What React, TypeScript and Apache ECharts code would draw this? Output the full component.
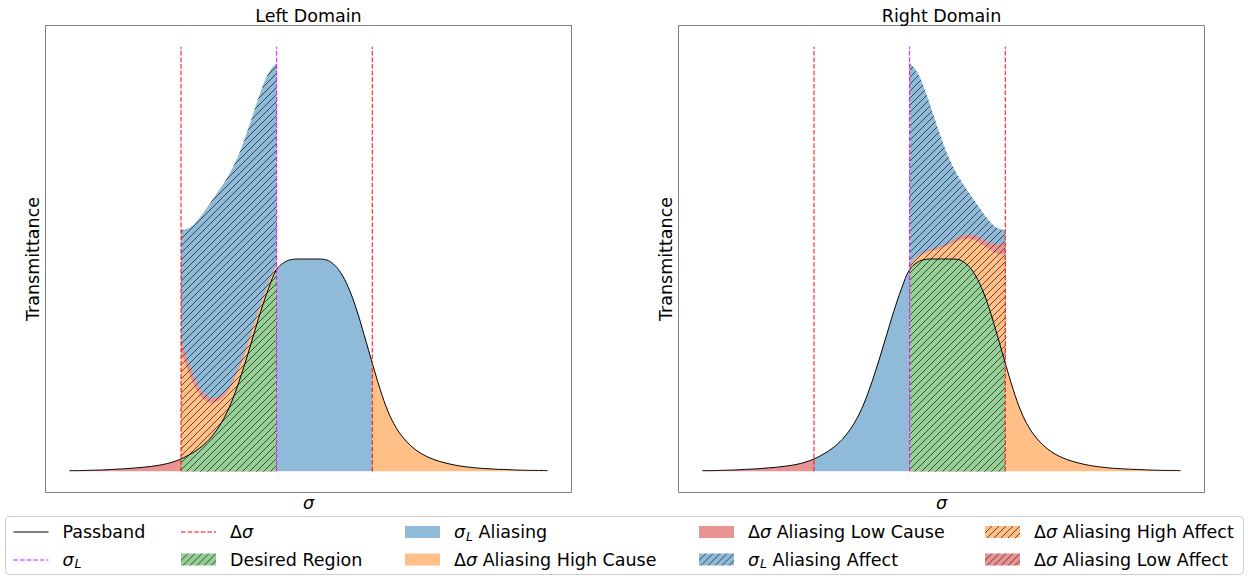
import React, { useEffect, useRef } from "react";
import * as echarts from "echarts";

// ---- data ----
const SIGMA = [
  0, 1, 2, 3, 4, 5, 6, 7, 8, 9, 10, 11, 12, 13, 14, 15, 16, 17, 18, 19, 20,
  21, 22, 23, 24, 25, 26, 27, 28, 29, 30, 31, 32, 33, 34, 35, 36, 37, 38, 39, 40,
  41, 42, 43, 44, 45, 46, 47, 48, 49, 50, 51, 52, 53, 54, 55, 56, 57, 58, 59, 60,
];
const PASSBAND = [
  0.003, 0.003, 0.004, 0.005, 0.006, 0.008, 0.01, 0.012, 0.015, 0.018, 0.022,
  0.027, 0.034, 0.044, 0.058, 0.077, 0.1, 0.13, 0.17, 0.224, 0.296,
  0.392, 0.505, 0.628, 0.752, 0.862, 0.95, 0.985, 0.998, 1.0, 1.0,
  1.0, 0.998, 0.98, 0.938, 0.866, 0.765, 0.64, 0.51, 0.385, 0.28,
  0.205, 0.153, 0.115, 0.087, 0.067, 0.052, 0.041, 0.032, 0.025, 0.02,
  0.016, 0.013, 0.011, 0.009, 0.008, 0.006, 0.005, 0.004, 0.004, 0.003,
];
const SIGMA_L = 26;
const DELTA_SIGMA = 12;
const MARKER_TOP = 2.0;
const X_LIMITS = [-3, 63];
const Y_LIMITS = [-0.1, 2.1];
const PANEL_TITLES = ["Left Domain", "Right Domain"];
const X_LABEL = "σ";
const Y_LABEL = "Transmittance";
const LEGEND_COLUMNS = [
  ["Passband", "σL"],
  ["Δσ", "Desired Region"],
  ["σL Aliasing", "Δσ Aliasing High Cause"],
  ["Δσ Aliasing Low Cause", "σL Aliasing Affect"],
  ["Δσ Aliasing High Affect", "Δσ Aliasing Low Affect"],
];
const LEGEND_RICH_LABELS: Record<string, string> = {
  Passband: "Passband",
  "σL": "{i|σ}{s|L}",
  "Δσ": "Δ{i|σ}",
  "Desired Region": "Desired Region",
  "σL Aliasing": "{i|σ}{s|L} Aliasing",
  "Δσ Aliasing High Cause": "Δ{i|σ} Aliasing High Cause",
  "Δσ Aliasing Low Cause": "Δ{i|σ} Aliasing Low Cause",
  "σL Aliasing Affect": "{i|σ}{s|L} Aliasing Affect",
  "Δσ Aliasing High Affect": "Δ{i|σ} Aliasing High Affect",
  "Δσ Aliasing Low Affect": "Δ{i|σ} Aliasing Low Affect",
};

// ---- styling ----
const FONT = "'DejaVu Sans', 'Noto Sans', sans-serif";
const FS = 17.5;
const COLORS = {
  blue: "#8fbbd9",
  orange: "#ffbf86",
  green: "#95cf95",
  red: "#ea9393",
};
const DASH = [4.6, 2];
const SMOOTH = 0.4;
const GRIDS = [
  { left: 45.5, top: 25.5, width: 526, height: 467 },
  { left: 678.5, top: 25.5, width: 526, height: 467 },
];
const LEGEND_X = [13.5, 181, 405, 699, 985];
const LEGEND_TOP = 521;
const LEGEND_ROW_H = 22;
const LEGEND_GAP = 5.5;
const HANDLE_W = 35;

function hatch(bg: string) {
  const s = 7;
  const c = document.createElement("canvas");
  c.width = s;
  c.height = s;
  const g = c.getContext("2d")!;
  g.fillStyle = bg;
  g.fillRect(0, 0, s, s);
  g.strokeStyle = "rgba(0,0,0,0.62)";
  g.lineWidth = 1;
  for (const k of [-1, 0, 1]) {
    g.beginPath();
    g.moveTo(k * s, s);
    g.lineTo(k * s + s, 0);
    g.stroke();
  }
  return { image: c.toDataURL(), repeat: "repeat", imageWidth: s, imageHeight: s };
}

const idx = (s: number) => SIGMA.indexOf(s);
const T = (s: number) => PASSBAND[idx(s)];
const span = (a: number, b: number) => SIGMA.filter((s) => s >= a && s <= b);

function buildOption() {
  const H = {
    blue: hatch(COLORS.blue),
    orange: hatch(COLORS.orange),
    green: hatch(COLORS.green),
    red: hatch(COLORS.red),
  };
  const lo = SIGMA_L - DELTA_SIGMA;
  const hi = SIGMA_L + DELTA_SIGMA;
  const sMin = SIGMA[0];
  const sMax = SIGMA[SIGMA.length - 1];

  const area = (name: string, g: number, xs: number[], ys: number[], fill: any, z: number) => ({
    type: "line",
    name,
    xAxisIndex: g,
    yAxisIndex: g,
    data: xs.map((s, k) => [s, ys[k]]),
    symbol: "none",
    smooth: SMOOTH,
    lineStyle: { width: 0, opacity: 0 },
    areaStyle: { color: fill, opacity: 1 },
    z,
    silent: true,
  });
  const vline = (name: string, g: number, s: number, color: string) => ({
    type: "line",
    name,
    xAxisIndex: g,
    yAxisIndex: g,
    data: [
      [s, 0],
      [s, MARKER_TOP],
    ],
    symbol: "none",
    lineStyle: { color, width: 1, type: DASH },
    z: 6,
    silent: true,
  });

  const panels = [
    {
      domain: [lo, SIGMA_L],
      blueSolid: [SIGMA_L, hi],
      orangeAff: (s: number) => T(s + 2 * DELTA_SIGMA),
      pinkAff: (s: number) => T(2 * lo - s),
    },
    {
      domain: [SIGMA_L, hi],
      blueSolid: [lo, SIGMA_L],
      orangeAff: (s: number) => T(2 * hi - s),
      pinkAff: (s: number) => T(s - 2 * DELTA_SIGMA),
    },
  ];

  const series: any[] = [];
  panels.forEach((p, g) => {
    const dom = span(p.domain[0], p.domain[1]);
    const c1 = dom.map(T);
    const c2 = dom.map((s, k) => c1[k] + p.orangeAff(s));
    const c3 = dom.map((s, k) => c2[k] + p.pinkAff(s));
    const c4 = dom.map((s, k) => c3[k] + T(2 * SIGMA_L - s));
    series.push(area("σL Aliasing Affect", g, dom, c4, H.blue, 1));
    series.push(area("Δσ Aliasing Low Affect", g, dom, c3, H.red, 2));
    series.push(area("Δσ Aliasing High Affect", g, dom, c2, H.orange, 3));
    series.push(area("Desired Region", g, dom, c1, H.green, 4));
    const low = span(sMin, lo);
    series.push(area("Δσ Aliasing Low Cause", g, low, low.map(T), COLORS.red, 4));
    const bs = span(p.blueSolid[0], p.blueSolid[1]);
    series.push(area("σL Aliasing", g, bs, bs.map(T), COLORS.blue, 4));
    const high = span(hi, sMax);
    series.push(area("Δσ Aliasing High Cause", g, high, high.map(T), COLORS.orange, 4));
    series.push({
      type: "line",
      name: "Passband",
      xAxisIndex: g,
      yAxisIndex: g,
      data: SIGMA.map((s) => [s, T(s)]),
      symbol: "none",
      smooth: SMOOTH,
      lineStyle: { color: "#000", width: 1 },
      z: 5,
      silent: true,
    });
    series.push(vline("Δσ", g, lo, "#ff0000"));
    series.push(vline("Δσ", g, hi, "#ff0000"));
    series.push(vline("σL", g, SIGMA_L, "#ff00ff"));
  });

  const lineItems: Record<string, any> = {
    Passband: { color: "#000000", dash: null },
    "σL": { color: "#ff00ff", dash: DASH },
    "Δσ": { color: "#ff0000", dash: DASH },
  };
  const patchItems: Record<string, any> = {
    "Desired Region": H.green,
    "σL Aliasing": COLORS.blue,
    "Δσ Aliasing High Cause": COLORS.orange,
    "Δσ Aliasing Low Cause": COLORS.red,
    "σL Aliasing Affect": H.blue,
    "Δσ Aliasing High Affect": H.orange,
    "Δσ Aliasing Low Affect": H.red,
  };
  const legendItem = (name: string) =>
    lineItems[name]
      ? { name, icon: "none" }
      : { name, icon: "rect", itemStyle: { color: patchItems[name], borderWidth: 0, opacity: 1 } };

  const legends = LEGEND_COLUMNS.map((col, k) => ({
    orient: "vertical",
    left: LEGEND_X[k],
    top: LEGEND_TOP,
    itemWidth: HANDLE_W,
    itemHeight: 12,
    itemGap: LEGEND_GAP,
    padding: 0,
    selectedMode: false,
    data: col.map(legendItem),
    formatter: (n: string) => LEGEND_RICH_LABELS[n] ?? n,
    textStyle: {
      fontFamily: FONT,
      fontSize: FS,
      color: "#000",
      lineHeight: LEGEND_ROW_H,
      padding: [0, 0, 0, 9],
      rich: {
        i: { fontFamily: FONT, fontSize: FS, fontStyle: "italic", color: "#000", lineHeight: LEGEND_ROW_H },
        s: {
          fontFamily: FONT,
          fontSize: 12.5,
          fontStyle: "italic",
          color: "#000",
          lineHeight: 14,
          padding: [8, 0, 0, 1],
        },
      },
    },
  }));

  const graphic: any[] = [
    {
      type: "rect",
      shape: { x: 5.5, y: 516.5, width: 1238, height: 58, r: 4 },
      style: { fill: "rgba(255,255,255,0.8)", stroke: "#cccccc", lineWidth: 1 },
      z: 0,
      silent: true,
    },
  ];
  // line-style legend handles
  LEGEND_COLUMNS.forEach((col, k) => {
    col.forEach((name, r) => {
      const li = lineItems[name];
      if (!li) return;
      const y = Math.round(LEGEND_TOP + LEGEND_ROW_H / 2 + r * (LEGEND_ROW_H + LEGEND_GAP));
      graphic.push({
        type: "line",
        silent: true,
        z: 10,
        shape: { x1: LEGEND_X[k], y1: y, x2: LEGEND_X[k] + HANDLE_W, y2: y },
        style: { stroke: li.color, lineWidth: 1, lineDash: li.dash || undefined },
      });
    });
  });
  GRIDS.forEach((gr, g) => {
    const cx = gr.left + gr.width / 2;
    const cy = gr.top + gr.height / 2;
    graphic.push({
      type: "text",
      x: cx,
      y: 16,
      silent: true,
      style: {
        text: PANEL_TITLES[g],
        fontFamily: FONT,
        fontSize: FS,
        fill: "#000",
        align: "center",
        verticalAlign: "middle",
        textAlign: "center",
        textVerticalAlign: "middle",
      },
    });
    graphic.push({
      type: "text",
      x: cx,
      y: 502.5,
      silent: true,
      style: {
        text: X_LABEL,
        fontFamily: FONT,
        fontSize: FS,
        fontStyle: "italic",
        fill: "#000",
        align: "center",
        verticalAlign: "middle",
        textAlign: "center",
        textVerticalAlign: "middle",
      },
    });
    graphic.push({
      type: "text",
      x: gr.left - 12.5,
      y: cy,
      rotation: Math.PI / 2,
      silent: true,
      style: {
        text: Y_LABEL,
        fontFamily: FONT,
        fontSize: FS,
        fill: "#000",
        align: "center",
        verticalAlign: "middle",
        textAlign: "center",
        textVerticalAlign: "middle",
      },
    });
  });

  return {
    animation: false,
    backgroundColor: "#ffffff",
    textStyle: { fontFamily: FONT },
    grid: GRIDS.map((gr) => ({
      ...gr,
      show: true,
      borderColor: "#808080",
      borderWidth: 1,
      backgroundColor: "transparent",
      containLabel: false,
    })),
    xAxis: GRIDS.map((_, g) => ({
      type: "value",
      gridIndex: g,
      min: X_LIMITS[0],
      max: X_LIMITS[1],
      show: false,
    })),
    yAxis: GRIDS.map((_, g) => ({
      type: "value",
      gridIndex: g,
      min: Y_LIMITS[0],
      max: Y_LIMITS[1],
      show: false,
    })),
    legend: legends,
    graphic,
    series,
  };
}

export default function App() {
  const ref = useRef<HTMLDivElement>(null);
  useEffect(() => {
    document.body.style.margin = "0";
    if (!ref.current) return;
    const chart = echarts.init(ref.current, undefined, { renderer: "svg" });
    chart.setOption(buildOption() as any);
    return () => chart.dispose();
  }, []);
  return <div ref={ref} style={{ width: 1248, height: 579 }} />;
}
